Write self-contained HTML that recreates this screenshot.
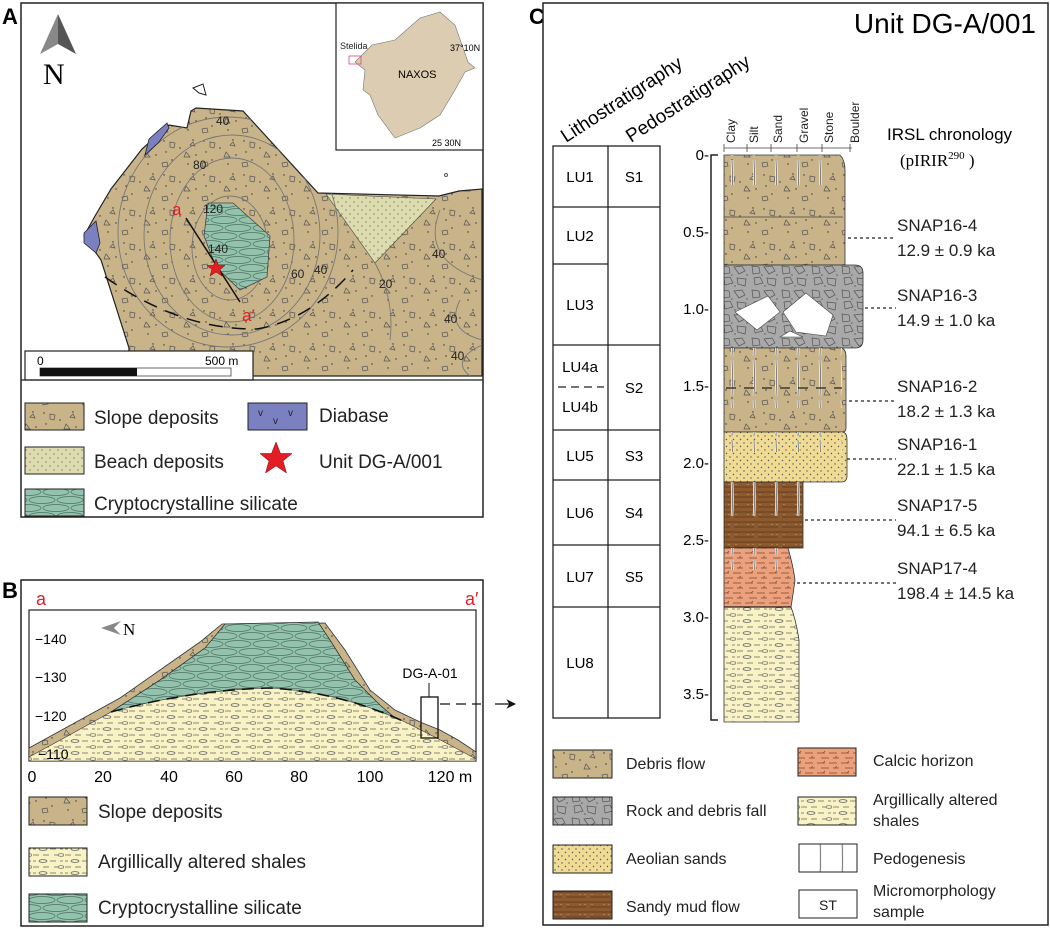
<!DOCTYPE html>
<html><head><meta charset="utf-8"><style>
html,body{margin:0;padding:0;background:#fff;}
svg{display:block;font-family:"Liberation Sans",sans-serif;}
</style></head><body>
<svg width="1050" height="929" viewBox="0 0 1050 929" xmlns="http://www.w3.org/2000/svg">
<defs>
<pattern id="deb" width="40" height="34" patternUnits="userSpaceOnUse">
<rect width="40" height="34" fill="#c9b48a"/>
<g fill="#333"><circle cx="4" cy="5" r=".7"/><circle cx="20" cy="12" r=".7"/><circle cx="33" cy="4" r=".7"/><circle cx="12" cy="24" r=".7"/><circle cx="28" cy="28" r=".7"/><circle cx="36" cy="19" r=".7"/><circle cx="6" cy="16" r=".7"/></g>
<g fill="none" stroke="#555" stroke-width=".7"><path d="M10 6l5 1-1 5-4-1z"/><path d="M26 16l4 5h-6z"/><path d="M2 27l5-1 1 4-5 1z"/><path d="M30 9l3-3 2 4z"/></g>
</pattern>
<pattern id="beach" width="8" height="8" patternUnits="userSpaceOnUse">
<rect width="8" height="8" fill="#dcdcae"/><circle cx="2" cy="2" r=".6" fill="#555"/><circle cx="6" cy="6" r=".6" fill="#555"/>
</pattern>
<pattern id="sil" width="28" height="16" patternUnits="userSpaceOnUse">
<rect width="28" height="16" fill="#93c3ad"/>
<g fill="none" stroke="#4f6f64" stroke-width=".7"><ellipse cx="14" cy="4" rx="13" ry="3.5"/><ellipse cx="0" cy="12" rx="13" ry="3.5"/><ellipse cx="28" cy="12" rx="13" ry="3.5"/></g>
</pattern>
<pattern id="sh" width="32" height="12" patternUnits="userSpaceOnUse">
<rect width="32" height="12" fill="#f8f2c4"/>
<g stroke="#666" stroke-width=".7" fill="none"><path d="M1 3h6M11 3h6M22 3h4M1 9h3M18 9h6M28 9h3"/><ellipse cx="29" cy="3" rx="3" ry="1.3"/><ellipse cx="11" cy="9" rx="4" ry="1.4"/></g>
</pattern>
<pattern id="gray" width="30" height="24" patternUnits="userSpaceOnUse">
<rect width="30" height="24" fill="#a9a9a9"/>
<g fill="none" stroke="#555" stroke-width=".7"><path d="M2 2l7 1 1 6-7 1z"/><path d="M14 3l8-1 3 5-6 3z"/><path d="M4 14l6-1 3 6-8 2z"/><path d="M17 14l9 1-1 7-7-2z"/></g>
<g fill="#333"><circle cx="12" cy="11" r=".6"/><circle cx="27" cy="11" r=".6"/><circle cx="15" cy="22" r=".6"/></g>
</pattern>
<pattern id="aeo" width="7" height="7" patternUnits="userSpaceOnUse">
<rect width="7" height="7" fill="#efdb93"/><circle cx="2" cy="2" r=".7" fill="#555"/><circle cx="5.5" cy="5.5" r=".7" fill="#555"/>
</pattern>
<pattern id="mud" width="24" height="10" patternUnits="userSpaceOnUse">
<rect width="24" height="10" fill="#8c5a2e"/><path d="M0 2h24M0 7h10M14 7h10" stroke="#5a3515" stroke-width=".8"/><g fill="#d9b080"><circle cx="4" cy="4.5" r=".5"/><circle cx="9" cy="4.5" r=".5"/><circle cx="16" cy="4.5" r=".5"/></g>
</pattern>
<pattern id="calc" width="24" height="10" patternUnits="userSpaceOnUse">
<rect width="24" height="10" fill="#eca07b"/><path d="M1 3h8M13 3h8M5 8h8M17 8h6" stroke="#7a4a30" stroke-width=".7"/><path d="M7 3l2-2M19 8l2-2" stroke="#7a4a30" stroke-width=".6"/>
</pattern>
<pattern id="ped" width="22" height="40" patternUnits="userSpaceOnUse">
<path d="M6 0q1 20 0 36" stroke="#eee" stroke-width="2.5" fill="none"/><path d="M6 0q1 20 0 36" stroke="#666" stroke-width=".8" fill="none"/>
</pattern>
<marker id="ar" viewBox="0 0 10 10" refX="9" refY="5" markerWidth="8" markerHeight="8" orient="auto"><path d="M0 0L10 5L0 10L3 5z" fill="#111"/></marker>
<clipPath id="mapclip"><polygon points="191,111 196,108 243,111 318,193 439,196 459,191 482,189 482,376 128,376 129,348 101,260 84,236 95,216 111,189 142,149 169,125 187,128"/></clipPath>
</defs>

<!-- ============ PANEL A ============ -->
<text x="2" y="24" font-size="22" font-weight="bold">A</text>
<rect x="21" y="3" width="462" height="514" fill="#fff" stroke="#222" stroke-width="1.5"/>
<polygon points="191,111 196,108 243,111 318,193 439,196 459,191 482,189 482,376 128,376 129,348 101,260 84,236 95,216 111,189 142,149 169,125 187,128" fill="url(#deb)" stroke="#222" stroke-width="1.2"/>
<polygon points="326,194 436,199 375,263" fill="url(#beach)" stroke="#444" stroke-width=".6"/>
<g fill="none" stroke="#777" stroke-width=".9" clip-path="url(#mapclip)">
<ellipse cx="230" cy="248" rx="38" ry="52"/>
<ellipse cx="232" cy="240" rx="62" ry="82"/>
<ellipse cx="232" cy="235" rx="88" ry="100"/>
<ellipse cx="228" cy="232" rx="110" ry="115"/>
<ellipse cx="237" cy="245" rx="20" ry="26"/>
<path d="M375 263 Q395 300 390 340"/><path d="M440 210 Q420 260 482 280"/><path d="M460 300 Q445 330 482 340"/><path d="M482 345 Q450 360 470 376"/>
</g>
<polygon points="208,203 233,203 270,236 267,277 240,290 216,267 204,236" fill="url(#sil)" stroke="#444" stroke-width=".8"/>
<polygon points="149,139 167,123 169,128 159,142 145,155" fill="#7b80c1" stroke="#222" stroke-width=".8"/>
<polygon points="84,233 96,221 100,243 96,253 84,243" fill="#7b80c1" stroke="#222" stroke-width=".8"/>
<polygon points="193,88 203,84 206,95 199,93" fill="#fff" stroke="#222" stroke-width="1"/>
<circle cx="446" cy="175" r="1.5" fill="none" stroke="#555"/>
<path d="M105 277 Q180 330 257 329 Q310 320 353 270" fill="none" stroke="#111" stroke-width="1.5" stroke-dasharray="14,9"/>
<line x1="186" y1="218" x2="240" y2="302" stroke="#111" stroke-width="1.5"/>
<polygon points="216,259 218.5,265.5 225,265.5 220,269.5 222,276 216,272 210,276 212,269.5 207,265.5 213.5,265.5" fill="#e21d25" stroke="#7a0000" stroke-width=".5"/>
<text x="172" y="215" font-size="17" fill="#e21d25">a</text>
<text x="242" y="321" font-size="17" fill="#e21d25">a′</text>
<g font-size="12" fill="#222">
<text x="216" y="125">40</text><text x="193" y="169">80</text><text x="203" y="213">120</text><text x="208" y="253">140</text>
<text x="291" y="278">60</text><text x="314" y="274">40</text><text x="379" y="288">20</text><text x="432" y="258">40</text><text x="444" y="323">40</text><text x="451" y="360">40</text>
</g>
<rect x="25" y="351" width="228" height="29" fill="#fff" stroke="#222" stroke-width="1.2"/>
<text x="37" y="365" font-size="12">0</text><text x="205" y="365" font-size="12">500 m</text>
<rect x="40" y="368" width="191" height="8" fill="#fff" stroke="#444" stroke-width=".8"/>
<rect x="40" y="368" width="97" height="8" fill="#111"/>
<line x1="21" y1="380" x2="483" y2="380" stroke="#222" stroke-width="1.2"/>
<polygon points="58,14 40,54 58,44" fill="#888"/><polygon points="58,14 76,54 58,44" fill="#555"/>
<text x="43" y="84" font-size="30" font-family="Liberation Serif,serif">N</text>
<rect x="336" y="3" width="147" height="147" fill="#fff" stroke="#222" stroke-width="1.2"/>
<path d="M355 62 L372 45 L395 40 L420 18 L440 12 L455 25 L462 45 L468 62 L475 68 L465 72 L455 90 L440 115 L420 128 L395 138 L378 115 L370 95 L363 90 L365 70 Z" fill="#dcccb2" stroke="#777" stroke-width=".6"/>
<rect x="349" y="56" width="12" height="8" fill="none" stroke="#e0457a" stroke-width=".8"/>
<text x="340" y="49" font-size="9" fill="#222">Stelida</text>
<text x="398" y="78" font-size="11">NAXOS</text>
<text x="450" y="51" font-size="9">37°10N</text>
<text x="432" y="146" font-size="9">25 30N</text>
<g font-size="19" fill="#222">
<rect x="25" y="403" width="59" height="27" fill="url(#deb)" stroke="#222"/><text x="94" y="424">Slope deposits</text>
<rect x="248" y="403" width="59" height="27" fill="#7b80c1" stroke="#222"/><text x="319" y="422">Diabase</text>
<text x="258" y="416" font-size="10">v</text><text x="273" y="424" font-size="10">v</text><text x="288" y="416" font-size="10">v</text>
<rect x="25" y="447" width="59" height="27" fill="url(#beach)" stroke="#222"/><text x="94" y="468">Beach deposits</text>
<polygon points="276,442 280.5,453.5 292,453.5 283,461 286.5,473 276,466 265.5,473 269,461 260,453.5 271.5,453.5" fill="#e21d25" stroke="#7a0000" stroke-width=".5"/>
<text x="319" y="468">Unit DG-A/001</text>
<rect x="25" y="489" width="59" height="27" fill="url(#sil)" stroke="#222"/><text x="94" y="510">Cryptocrystalline silicate</text>
</g>

<!-- ============ PANEL B ============ -->
<text x="2" y="598" font-size="22" font-weight="bold">B</text>
<rect x="21" y="580" width="462" height="346" fill="#fff" stroke="#222" stroke-width="1.5"/>
<text x="36" y="605" font-size="18" fill="#e21d25">a</text><text x="465" y="605" font-size="18" fill="#e21d25">a′</text>
<rect x="29" y="610" width="447" height="151" fill="#fff" stroke="#222" stroke-width="1.2"/>
<polygon points="29,748 120,698 200,642 222,624 325,623 345,650 370,690 395,710 420,722 440,730 458,740 476,752 476,761 29,761" fill="url(#deb)" stroke="#333" stroke-width=".8"/>
<polygon points="111,712 160,680 205,648 225,624 318,622 330,640 355,680 380,705 395,718" fill="url(#sil)" stroke="#333" stroke-width=".8"/>
<path d="M29 761 L29 757 Q70 735 111,712 Q190 690 270,688 Q340 692 405,722 Q445 742 476,759 L476,761 Z" fill="url(#sh)" stroke="#333" stroke-width=".6"/>
<path d="M111 712 Q190 690 270,688 Q340 692 405,722" fill="none" stroke="#111" stroke-width="1.6" stroke-dasharray="12,7"/>
<rect x="421" y="697" width="17" height="41" fill="none" stroke="#111" stroke-width="1.3"/>
<line x1="429" y1="697" x2="429" y2="683" stroke="#111"/>
<text x="430" y="678" font-size="14" text-anchor="middle">DG-A-01</text>
<line x1="440" y1="704" x2="481" y2="704" stroke="#111" stroke-width="1.2" stroke-dasharray="10,6"/>
<line x1="495" y1="704" x2="515" y2="704" stroke="#111" stroke-width="1.2" marker-end="url(#ar)"/>
<polygon points="101,628 121,621 114,628 121,635" fill="#888"/>
<text x="123" y="635" font-size="17" font-family="Liberation Serif,serif">N</text>
<g font-size="14"><text x="35" y="644">−140</text><text x="35" y="682">−130</text><text x="35" y="721">−120</text><text x="38" y="759">−110</text></g>
<g font-size="16" text-anchor="middle"><text x="32" y="782">0</text><text x="103" y="782">20</text><text x="169" y="782">40</text><text x="234" y="782">60</text><text x="299" y="782">80</text><text x="370" y="782">100</text><text x="450" y="782">120 m</text></g>
<g font-size="19" fill="#222">
<rect x="29" y="797" width="58" height="28" fill="url(#deb)" stroke="#222"/><text x="98" y="818">Slope deposits</text>
<rect x="29" y="848" width="58" height="28" fill="url(#sh)" stroke="#222"/><text x="98" y="868">Argillically altered shales</text>
<rect x="29" y="894" width="58" height="28" fill="url(#sil)" stroke="#222"/><text x="98" y="914">Cryptocrystalline silicate</text>
</g>

<!-- ============ PANEL C ============ -->
<text x="529" y="24" font-size="22" font-weight="bold">C</text>
<rect x="543" y="3" width="505" height="922" fill="#fff" stroke="#222" stroke-width="1.5"/>
<text x="1036" y="33" font-size="28" text-anchor="end">Unit DG-A/001</text>
<text transform="translate(566,143) rotate(-33)" font-size="19">Lithostratigraphy</text>
<text transform="translate(631,143) rotate(-33)" font-size="19">Pedostratigraphy</text>
<g fill="none" stroke="#222" stroke-width="1.3">
<rect x="553" y="146" width="107" height="572"/>
<line x1="608" y1="146" x2="608" y2="718"/>
<path d="M553 207H660M553 264H608M553 345H660M553 430H660M553 480H660M553 545H660M553 607H660"/>
<path d="M558 387H604" stroke-dasharray="8,5"/>
</g>
<g font-size="15" text-anchor="middle">
<text x="580" y="182">LU1</text><text x="634" y="182">S1</text>
<text x="580" y="241">LU2</text><text x="580" y="310">LU3</text>
<text x="580" y="372">LU4a</text><text x="580" y="412">LU4b</text><text x="634" y="393">S2</text>
<text x="580" y="461">LU5</text><text x="634" y="461">S3</text>
<text x="580" y="518">LU6</text><text x="634" y="518">S4</text>
<text x="580" y="582">LU7</text><text x="634" y="582">S5</text>
<text x="580" y="668">LU8</text>
</g>
<path d="M718 155H711V720H718" fill="none" stroke="#222" stroke-width="1.5"/>
<g font-size="15" text-anchor="end"><text x="709" y="160">0-</text><text x="709" y="237">0.5-</text><text x="709" y="314">1.0-</text><text x="709" y="391">1.5-</text><text x="709" y="468">2.0-</text><text x="709" y="545">2.5-</text><text x="709" y="622">3.0-</text><text x="709" y="699">3.5-</text></g>
<path d="M724 148H852M724 144V152M747 144V152M771 144V152M797 144V152M822 144V152M850 144V152" stroke="#444" stroke-width=".8"/>
<g font-size="12" fill="#222">
<text transform="translate(735,143) rotate(-90)">Clay</text>
<text transform="translate(758,143) rotate(-90)">Silt</text>
<text transform="translate(782,143) rotate(-90)">Sand</text>
<text transform="translate(808,143) rotate(-90)">Gravel</text>
<text transform="translate(833,143) rotate(-90)">Stone</text>
<text transform="translate(859,143) rotate(-90)">Boulder</text>
</g>
<path d="M724 155H840Q845 160 845 170V265H724Z" fill="url(#deb)" stroke="#333" stroke-width=".8"/>
<line x1="724" y1="217" x2="843" y2="217" stroke="#444" stroke-width=".8"/>
<rect x="724" y="155" width="116" height="30" fill="url(#ped)"/>
<path d="M724 265H855Q863 265 863 273V340Q863 348 855 348H724Z" fill="url(#gray)" stroke="#333" stroke-width=".8"/>
<polygon points="735,312 768,296 780,312 757,330" fill="#fff" stroke="#444" stroke-width=".6"/>
<polygon points="783,312 806,293 833,315 826,336 796,332" fill="#fff" stroke="#444" stroke-width=".6"/>
<polygon points="780,337 790,331 803,337" fill="#fff" stroke="#444" stroke-width=".6"/>
<path d="M724 348H842Q846 350 846 356V428Q846 432 842 432H724Z" fill="url(#deb)" stroke="#333" stroke-width=".8"/>
<rect x="724" y="348" width="118" height="60" fill="url(#ped)"/>
<path d="M726 388H842" stroke="#222" stroke-width="1.2" stroke-dasharray="10,8"/>
<path d="M724 432H843Q847 433 847 440V476Q847 482 841 482H724Z" fill="url(#aeo)" stroke="#333" stroke-width=".8"/>
<rect x="724" y="432" width="118" height="20" fill="url(#ped)"/>
<rect x="724" y="482" width="79" height="66" fill="url(#mud)" stroke="#333" stroke-width=".8"/>
<rect x="724" y="482" width="79" height="36" fill="url(#ped)"/>
<path d="M724 548H788Q793 565 795 580Q793 595 791 607H724Z" fill="url(#calc)" stroke="#333" stroke-width=".8"/>
<rect x="724" y="548" width="66" height="22" fill="url(#ped)"/>
<path d="M724 607H791Q796 620 799 640V722H724Z" fill="url(#sh)" stroke="#333" stroke-width=".8"/>
<line x1="724" y1="607" x2="791" y2="607" stroke="#222" stroke-width="1.2"/>
<g stroke="#222" stroke-width="1.3" stroke-dasharray="3,3">
<line x1="848" y1="238" x2="896" y2="238"/><line x1="865" y1="308" x2="896" y2="308"/>
<line x1="849" y1="401" x2="896" y2="401"/><line x1="847" y1="459" x2="896" y2="459"/>
<line x1="805" y1="520" x2="896" y2="520"/><line x1="797" y1="583" x2="896" y2="583"/>
</g>
<text x="887" y="140" font-size="17">IRSL chronology</text>
<text x="900" y="166" font-size="17" font-family="Liberation Serif,serif">(pIRIR<tspan font-size="11" dy="-7">290</tspan><tspan dy="7"> )</tspan></text>
<g font-size="17" fill="#222">
<text x="897" y="231">SNAP16-4</text><text x="897" y="256">12.9 ± 0.9 ka</text>
<text x="897" y="301">SNAP16-3</text><text x="897" y="326">14.9 ± 1.0 ka</text>
<text x="897" y="392">SNAP16-2</text><text x="897" y="417">18.2 ± 1.3 ka</text>
<text x="897" y="450">SNAP16-1</text><text x="897" y="475">22.1 ± 1.5 ka</text>
<text x="897" y="511">SNAP17-5</text><text x="897" y="536">94.1 ± 6.5 ka</text>
<text x="897" y="574">SNAP17-4</text><text x="897" y="599">198.4 ± 14.5 ka</text>
</g>
<g font-size="16" fill="#222">
<rect x="553" y="750" width="59" height="28" fill="url(#deb)" stroke="#222"/><text x="626" y="769">Debris flow</text>
<rect x="553" y="797" width="59" height="28" fill="url(#gray)" stroke="#222"/><text x="626" y="816">Rock and debris fall</text>
<rect x="553" y="845" width="59" height="28" fill="url(#aeo)" stroke="#222"/><text x="626" y="864">Aeolian sands</text>
<rect x="553" y="891" width="59" height="28" fill="url(#mud)" stroke="#222"/><text x="626" y="912">Sandy mud flow</text>
<rect x="798" y="748" width="58" height="28" fill="url(#calc)" stroke="#222"/><text x="873" y="766">Calcic horizon</text>
<rect x="798" y="797" width="58" height="28" fill="url(#sh)" stroke="#222"/><text x="873" y="805">Argillically altered</text><text x="873" y="826">shales</text>
<rect x="799" y="844" width="58" height="28" fill="url(#ped)" stroke="#222"/><text x="873" y="864">Pedogenesis</text>
<rect x="799" y="890" width="58" height="28" fill="#fff" stroke="#222"/><text x="828" y="910" text-anchor="middle" font-size="14">ST</text>
<text x="873" y="896">Micromorphology</text><text x="873" y="917">sample</text>
</g>
</svg>
</body></html>
